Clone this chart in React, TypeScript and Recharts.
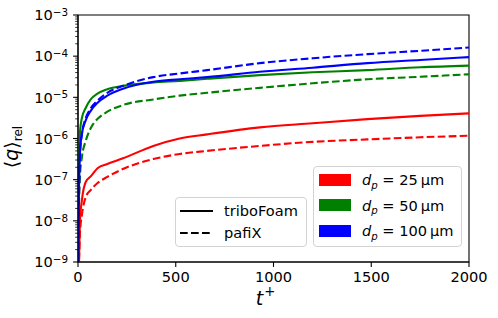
import { LineChart, Line, XAxis, YAxis, ReferenceArea, Label } from 'recharts';

// sampling times (t+)
const tGrid = [0, 5, 10, 20, 40, 65, 100, 150, 230, 385, 520, 660, 930, 1200, 1480, 1750, 2000];

// <q>_rel, d_p = 25 / 50 / 100 um
const tribo25 = [3.2e-10, 1e-9, 1e-8, 3.2e-8, 8.9e-8, 1.2e-7, 1.9e-7, 2.4e-7, 3.3e-7, 6.6e-7, 1.0e-6, 1.26e-6, 1.86e-6, 2.34e-6, 2.95e-6, 3.55e-6, 4.07e-6];
const pafix25 = [3.2e-10, 1e-9, 5e-9, 1.4e-8, 3.8e-8, 5.6e-8, 8.3e-8, 1.17e-7, 1.82e-7, 3.16e-7, 4.2e-7, 5.0e-7, 6.6e-7, 8.3e-7, 9.5e-7, 1.07e-6, 1.17e-6];
const tribo50 = [3.2e-10, 1e-7, 1.41e-6, 3.16e-6, 5.6e-6, 8.9e-6, 1.23e-5, 1.58e-5, 1.9e-5, 2.29e-5, 2.51e-5, 2.82e-5, 3.47e-5, 4.07e-5, 4.57e-5, 5.37e-5, 5.9e-5];
const pafix50 = [3.2e-10, 2.5e-8, 1.26e-7, 3.55e-7, 8.9e-7, 1.78e-6, 3.0e-6, 4.47e-6, 6.5e-6, 8.9e-6, 1.1e-5, 1.29e-5, 1.7e-5, 2.19e-5, 2.75e-5, 3.16e-5, 3.63e-5];
const tribo100 = [3.2e-10, 6.3e-8, 4.4e-7, 1.32e-6, 2.8e-6, 4.7e-6, 7.4e-6, 1.1e-5, 1.62e-5, 2.4e-5, 2.75e-5, 3.1e-5, 4.17e-5, 5.25e-5, 6.76e-5, 8.1e-5, 9.5e-5];
const pafix100 = [3.2e-10, 3.2e-8, 4.0e-7, 1.26e-6, 3.16e-6, 5.4e-6, 8.3e-6, 1.29e-5, 1.9e-5, 3.1e-5, 3.8e-5, 4.57e-5, 6.76e-5, 8.9e-5, 1.12e-4, 1.35e-4, 1.62e-4];

const xTicks = [0, 500, 1000, 1500, 2000];
const yTicks = [1e-9, 1e-8, 1e-7, 1e-6, 1e-5, 1e-4, 1e-3];

const sizeLabels = ['25', '50', '100'];
const sizeColors = ['#ff0000', '#008000', '#0000ff'];
const solverLabels = ['triboFoam', 'pafiX'];

const FONT = '"DejaVu Sans", sans-serif';
const DASH = '7.7 3.3';

const series = [
  { id: 'tribo25', values: tribo25, color: sizeColors[0], dashed: false },
  { id: 'pafix25', values: pafix25, color: sizeColors[0], dashed: true },
  { id: 'tribo50', values: tribo50, color: sizeColors[1], dashed: false },
  { id: 'pafix50', values: pafix50, color: sizeColors[1], dashed: true },
  { id: 'tribo100', values: tribo100, color: sizeColors[2], dashed: false },
  { id: 'pafix100', values: pafix100, color: sizeColors[2], dashed: true },
];

// minor log ticks 2..9 in every decade
const minorTicks: number[] = [];
yTicks.slice(0, -1).forEach((d) => {
  for (let k = 2; k <= 9; k++) minorTicks.push(k * d);
});
const allYTicks = [...yTicks, ...minorTicks].sort((a, b) => a - b);

const isMajor = (v: number) => Math.abs(Math.log10(v) - Math.round(Math.log10(v))) < 1e-6;

const YTick = (props: any) => {
  const { x, y, payload } = props;
  const v = payload.value;
  const major = isMajor(v);
  const exp = Math.round(Math.log10(v));
  return (
    <g>
      <line x1={x + 4.9 + (major ? 0 : 2.1)} x2={x + 9.8} y1={y} y2={y} stroke="#000" strokeWidth={major ? 1.1 : 0.8} />
      {major && (
        <text x={x} y={y + 5.3} textAnchor="end" fontSize={14.6} fontFamily={FONT} fill="#000">
          <tspan>10</tspan>
          <tspan dy={-4.5} fontSize={10.4}>{'\u2212' + Math.abs(exp)}</tspan>
        </text>
      )}
    </g>
  );
};

const XLabel = (props: any) => {
  const vb = props.viewBox;
  const cx = vb.x + vb.width / 2 - 8;
  return (
    <text x={cx} y={vb.y + 43} textAnchor="middle" fontSize={19} fontFamily={FONT} fill="#000">
      <tspan fontStyle="italic">t</tspan>
      <tspan dx={1} dy={-9} fontSize={13.3}>+</tspan>
    </text>
  );
};

const YLabel = (props: any) => {
  const vb = props.viewBox;
  const x0 = vb.x + 18;
  const y0 = vb.y + vb.height / 2 + 8.5;
  return (
    <text x={x0} y={y0} transform={`rotate(-90, ${x0}, ${y0})`} textAnchor="middle" fontSize={19} fontFamily={FONT} fill="#000">
      <tspan>{'\u27e8'}</tspan>
      <tspan fontStyle="italic">q</tspan>
      <tspan>{'\u27e9'}</tspan>
      <tspan dy={4} fontSize={12}>rel</tspan>
    </text>
  );
};

const boxStyle: React.CSSProperties = {
  position: 'absolute',
  boxSizing: 'border-box',
  border: '1px solid #d3d3d3',
  borderRadius: 4,
  background: 'rgba(255,255,255,0.8)',
  fontFamily: FONT,
  fontSize: 14.6,
  lineHeight: '16px',
  color: '#000',
};

export default function App() {
  return (
    <div style={{ position: 'absolute', left: 0, top: 0, width: 498, height: 318, background: '#fff' }}>
      <LineChart width={498} height={318} margin={{ top: 15, right: 29, bottom: 0, left: 0 }}>
        <XAxis
          dataKey="t"
          type="number"
          domain={[0, 2000]}
          ticks={xTicks}
          allowDataOverflow
          height={56}
          tickSize={4.9}
          tickMargin={4.9}
          axisLine={{ stroke: '#000', strokeWidth: 1.1 }}
          tickLine={{ stroke: '#000', strokeWidth: 1.1 }}
          tick={{ fill: '#000', fontSize: 14.6, fontFamily: FONT }}
        >
          <Label content={XLabel} />
        </XAxis>
        <YAxis
          type="number"
          scale="log"
          domain={[1e-9, 1e-3]}
          allowDataOverflow
          ticks={allYTicks}
          interval={0}
          width={78}
          tickSize={4.9}
          tickMargin={4.9}
          tickLine={false}
          axisLine={{ stroke: '#000', strokeWidth: 1.1 }}
          tick={YTick}
        >
          <Label content={YLabel} />
        </YAxis>
        <ReferenceArea x1={0} x2={2000} y1={1e-9} y2={1e-3} fill="none" stroke="#000" strokeWidth={1.1} />
        {series.map((s) => (
          <Line
            key={s.id}
            data={tGrid.map((t, i) => ({ t, q: s.values[i] }))}
            dataKey="q"
            type="monotone"
            stroke={s.color}
            strokeWidth={2.1}
            strokeDasharray={s.dashed ? DASH : undefined}
            dot={false}
            activeDot={false}
            isAnimationActive={false}
          />
        ))}
      </LineChart>

      {/* line style legend */}
      <div style={{ ...boxStyle, left: 175, top: 197, width: 132, height: 50 }}>
        {solverLabels.map((name, i) => (
          <div key={name}>
            <svg style={{ position: 'absolute', left: 4, top: 11 + i * 22 }} width={33} height={4}>
              <line x1={0} x2={33} y1={2} y2={2} stroke="#000" strokeWidth={2.1} strokeDasharray={i === 1 ? DASH : undefined} />
            </svg>
            <div style={{ position: 'absolute', left: 48, top: 5 + i * 22, whiteSpace: 'nowrap' }}>{name}</div>
          </div>
        ))}
      </div>

      {/* particle size legend */}
      <div style={{ ...boxStyle, left: 313, top: 166, width: 149, height: 81 }}>
        {sizeLabels.map((d, i) => (
          <div key={d}>
            <div
              style={{
                position: 'absolute',
                left: 5,
                top: 6.5 + i * 25.5,
                width: 32,
                height: 12,
                background: sizeColors[i],
              }}
            />
            <div style={{ position: 'absolute', left: 48, top: 5 + i * 25.5, whiteSpace: 'nowrap' }}>
              <i>d</i>
              <i style={{ fontSize: 10.2, position: 'relative', top: 3.5 }}>p</i>
              {' = ' + d + '\u2009\u00b5m'}
            </div>
          </div>
        ))}
      </div>
    </div>
  );
}
